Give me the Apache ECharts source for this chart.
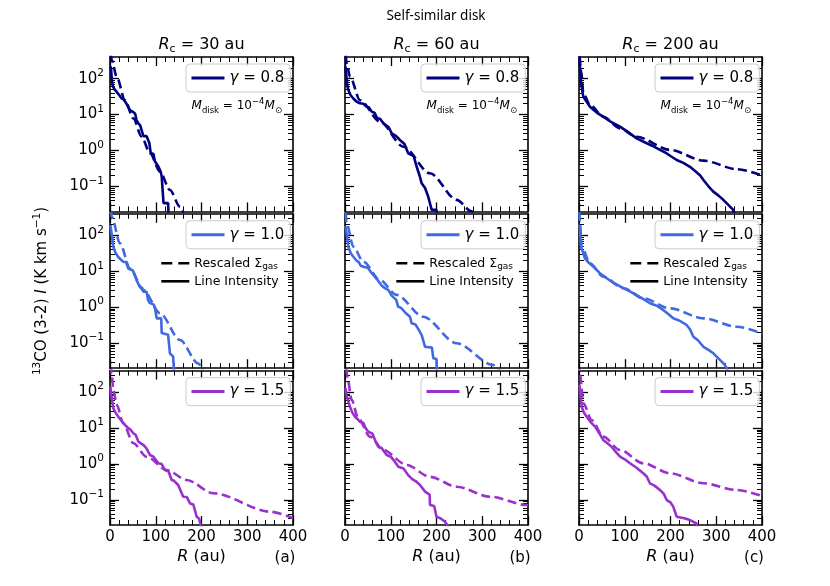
<!DOCTYPE html>
<html lang="en">
<head>
<meta charset="UTF-8">
<title>Self-similar disk</title>
<script src="https://cdn.jsdelivr.net/npm/echarts@6.0.0/dist/echarts.min.js"></script>
<style>
html, body { margin: 0; padding: 0; background: #fff; }
#chart { width: 830px; height: 586px; }
</style>
</head>
<body>
<div id="chart"></div>
<script>
// [R (au), 13CO(3-2) intensity (K km/s)]
// column a: Rc = 30 au, b: 60 au, c: 200 au ; rows 1..3: gamma 0.8, 1.0, 1.5
const a1Gas = [[2, 480], [3.6, 330], [14.6, 113], [32.8, 25], [51, 7.8], [69.2, 2.4], [87.4, 0.83], [109.3, 0.255], [131, 0.079], [153, 0.027], [165, 0.012]];
const a1Line = [[1, 220], [2.2, 190], [4, 95], [6, 62], [10, 50], [15, 42], [20, 35], [25.5, 28], [30, 26], [36, 20], [40, 16], [44, 13], [50, 12], [55, 10.5], [58, 7], [62, 5.7], [66, 5], [69, 3.7], [73, 2.5], [80, 2.5], [84, 2.4], [86, 1.6], [89, 0.85], [95, 0.8], [98, 0.5], [106, 0.35], [111, 0.25], [113, 0.19], [115, 0.08], [117, 0.034], [127, 0.034], [128, 0.015]];
const a2Gas = [[2, 500], [3.6, 330], [21.9, 60], [43.7, 12], [72.9, 3.0], [109.3, 0.68], [153, 0.122], [193, 0.027], [205, 0.015]];
const a2Line = [[1, 190], [3.6, 110], [7.3, 48], [12, 33], [18, 25], [24, 21], [29, 18.5], [35, 18], [40, 12], [44, 11], [50, 10.5], [54, 8], [58, 5.7], [65, 3.7], [70, 3.5], [73, 2.7], [80, 2.7], [83, 1.6], [87, 1.3], [95, 1.2], [98, 1.0], [102, 0.49], [112, 0.49], [113, 0.19], [127, 0.17], [131, 0.052], [138, 0.042], [140, 0.015]];
const a3Gas = [[2, 600], [3.6, 336], [7.3, 115], [14.6, 45], [29, 13.6], [51, 3.8], [80, 1.6], [124, 0.68], [167.6, 0.36], [225.9, 0.153], [350, 0.047], [400, 0.031]];
const a3Line = [[1, 140], [2.2, 93], [7.3, 35.6], [12, 27], [18.2, 20.8], [25, 16], [32.8, 12.2], [40, 10], [45, 9], [51, 7.2], [56, 6.5], [62, 4.2], [70, 3.6], [75, 3.2], [80, 2.7], [87.4, 1.78], [95, 1.6], [100, 1.3], [105.7, 1.05], [113, 1.0], [120, 0.68], [128, 0.62], [134.8, 0.36], [140, 0.34], [149, 0.26], [160, 0.123], [168, 0.12], [174.9, 0.08], [182, 0.075], [189.5, 0.034], [195, 0.03], [200, 0.015]];

const b1Gas = [[1.5, 450], [3.6, 267], [10.9, 113], [32.8, 25], [76.5, 6.3], [127.5, 1.27], [185.8, 0.23], [244, 0.042], [277, 0.02], [290, 0.012]];
const b1Line = [[1, 220], [2.2, 156], [4.5, 70], [7.3, 48], [12, 35], [18.2, 28], [25, 23], [32.8, 20.5], [40, 20], [47.4, 16.5], [52, 16], [58.3, 12], [65, 11], [70, 8], [77, 7.5], [83.8, 5.7], [95, 4.5], [102, 3.0], [112, 2.5], [120, 1.95], [130, 1.5], [138, 0.83], [150, 0.7], [156.7, 0.35], [163, 0.2], [167.6, 0.121], [175, 0.09], [182, 0.051], [189.5, 0.022], [200, 0.022], [201, 0.015]];
const b2Gas = [[1.5, 420], [3.6, 217], [18.2, 48.5], [40, 18.5], [76.5, 5.7], [113, 2.2], [171, 0.54], [244, 0.099], [324, 0.0245], [340, 0.016]];
const b2Line = [[1, 180], [3.6, 115], [7.3, 48.5], [12, 33], [18.2, 25.5], [25, 20], [30, 18], [35, 14], [40, 13.5], [50, 12.5], [58, 9], [62, 8.8], [70, 6], [80, 4], [87.4, 3.4], [95, 3], [102, 2.1], [106, 1.97], [112, 1.6], [116, 1.04], [123, 0.95], [132, 0.7], [142, 0.54], [145.7, 0.355], [154, 0.33], [160, 0.25], [167.6, 0.168], [175, 0.079], [190, 0.075], [193, 0.038], [200, 0.036], [201, 0.015]];
const b3Gas = [[3, 450], [5, 270], [14.6, 61], [29, 18.7], [54.6, 5.8], [83.8, 2.45], [134.8, 0.94], [185.8, 0.44], [244, 0.233], [317, 0.123], [397, 0.072], [400, 0.071]];
const b3Line = [[1, 130], [3.6, 84], [7, 55], [10.9, 39.5], [16, 27], [21.9, 20.8], [27, 18], [32.8, 15], [40, 14], [45, 10], [51, 7.9], [60, 7], [66, 4.5], [72.9, 3.0], [80, 2.8], [86, 2.2], [91, 1.78], [100, 1.6], [109, 1.16], [116.6, 0.84], [128, 0.75], [138, 0.49], [147, 0.38], [155, 0.33], [164, 0.26], [175, 0.17], [185, 0.14], [185.8, 0.072], [195, 0.068], [200, 0.034], [210, 0.03], [218.6, 0.0247], [230, 0.015]];

const c1Gas = [[1.5, 420], [4.4, 174], [9.5, 39], [24, 18.4], [53, 8.7], [89.6, 4.1], [126, 2.4], [199, 1.03], [272, 0.52], [345, 0.3], [400, 0.2]];
const c1Line = [[1, 300], [2.2, 215], [4.4, 74], [9.5, 31], [24, 16.5], [40, 11], [53, 8.7], [70, 6.2], [89.6, 4.6], [105, 3.4], [126, 2.17], [148, 1.58], [160, 1.35], [177, 1.03], [190, 0.85], [200, 0.7], [213.6, 0.54], [228, 0.45], [242.6, 0.35], [255, 0.26], [265, 0.2], [272, 0.15], [283, 0.1], [293.6, 0.071], [305, 0.055], [315.4, 0.042], [327, 0.03], [337, 0.022], [342, 0.015]];
const c2Gas = [[1, 450], [2.2, 217], [5.8, 48.5], [24, 16.7], [53, 7.1], [96.8, 3.4], [140.5, 1.77], [199, 0.93], [272, 0.49], [345, 0.286], [400, 0.187]];
const c2Line = [[1, 200], [2.2, 142], [4.4, 48.5], [13.1, 23], [20, 18], [31.3, 13.5], [45, 9], [60.5, 6.4], [75, 4.8], [96.8, 3.4], [110, 2.8], [126, 2.19], [140, 1.7], [155, 1.29], [170, 1.1], [184, 0.84], [195, 0.65], [206, 0.49], [220, 0.42], [235, 0.32], [242, 0.25], [250, 0.151], [260, 0.12], [272, 0.079], [283, 0.065], [293.6, 0.052], [308, 0.034], [319, 0.0245], [328, 0.015]];
const c3Gas = [[1, 700], [2.2, 302], [9.5, 49], [27.7, 16.8], [53, 5.8], [89.6, 2.45], [140.5, 1.05], [199, 0.55], [272, 0.29], [345, 0.189], [400, 0.128]];
const c3Line = [[1, 160], [2.2, 115], [5.8, 39.5], [10, 28], [16.8, 20.8], [25, 15], [35, 11], [45, 7], [53, 4.66], [62, 3.8], [71.5, 3.0], [80, 2.2], [89.6, 1.6], [100, 1.35], [111.5, 1.05], [125, 0.8], [140.5, 0.55], [148, 0.45], [155, 0.29], [165, 0.25], [177, 0.189], [185, 0.15], [191.7, 0.099], [200, 0.085], [206, 0.065], [210, 0.06], [213.6, 0.034], [230, 0.031], [242.6, 0.0275], [257, 0.022], [262, 0.015]];

const rcLabels = ['30', '60', '200'];
const gammaLabels = ['0.8', '1.0', '1.5'];
const panelTags = ['(a)', '(b)', '(c)'];
const yMin = 0.02, yMax = 400;
const yMajor = [0.1, 1, 10, 100];
const yMinor = [0.03, 0.04, 0.05, 0.06, 0.07, 0.08, 0.09, 0.2, 0.3, 0.4, 0.5, 0.6, 0.7, 0.8, 0.9,
  2, 3, 4, 5, 6, 7, 8, 9, 20, 30, 40, 50, 60, 70, 80, 90, 200, 300];

const gasData = [[a1Gas, a2Gas, a3Gas], [b1Gas, b2Gas, b3Gas], [c1Gas, c2Gas, c3Gas]];
const lineData = [[a1Line, a2Line, a3Line], [b1Line, b2Line, b3Line], [c1Line, c2Line, c3Line]];
const rowColors = ['#000080', '#4169e1', '#9932cc'];

// layout
const colLeft = [110, 345, 579];
const rowTop = [57, 213.8, 370.6];
const W = 183, H = 154.4;
const FONT = 'DejaVu Sans';

const spine = { show: true, onZero: false, lineStyle: { color: '#000', width: 1.6 } };
const noLine = { show: false, onZero: false };
const tickLine = { color: '#000', width: 1.3 };

function supFmt(v) {
  const e = Math.round(Math.log10(v));
  return '{b|10}{s|' + (e < 0 ? '\u2212' + (-e) : e) + '}';
}

function xAx(k, pos, labels) {
  return {
    gridIndex: k, type: 'value', min: 0, max: 400, interval: 100, position: pos,
    axisLine: spine,
    axisTick: { show: true, inside: true, length: 9, lineStyle: tickLine },
    minorTick: { show: true, splitNumber: 5, length: 5, lineStyle: { color: '#000', width: 1 } },
    splitLine: { show: false }, minorSplitLine: { show: false },
    axisLabel: labels ? { show: true, color: '#000', fontSize: 15, fontFamily: FONT, margin: 5 } : { show: false },
    name: labels ? '{i|R} (au)' : '',
    nameLocation: 'middle', nameGap: 24,
    nameTextStyle: { color: '#000', fontSize: 16, fontFamily: FONT,
      rich: { i: { fontStyle: 'italic', fontSize: 16, fontFamily: FONT, color: '#000' } } }
  };
}

// data axis (log) carrying the decade labels
function yData(k, labels) {
  return {
    gridIndex: k, type: 'log', logBase: 10, min: yMin, max: yMax, position: 'left',
    axisLine: spine, axisTick: { show: false }, splitLine: { show: false },
    axisLabel: labels ? {
      show: true, customValues: yMajor, margin: 6, formatter: supFmt, color: '#000',
      rich: {
        b: { fontSize: 15, fontFamily: FONT, color: '#000', lineHeight: 22, verticalAlign: 'middle' },
        s: { fontSize: 10.5, fontFamily: FONT, color: '#000', lineHeight: 10, verticalAlign: 'top' }
      }
    } : { show: false }
  };
}

// tick-only axes laid out in decades (log10 of the value)
function yTicks(k, pos, vals, len, showLine) {
  return {
    gridIndex: k, type: 'value', min: Math.log10(yMin), max: Math.log10(yMax), position: pos,
    axisLine: showLine ? spine : noLine,
    axisTick: { show: true, inside: true, length: len, customValues: vals.map(v => Math.log10(v)),
      lineStyle: len > 6 ? tickLine : { color: '#000', width: 1 } },
    axisLabel: { show: false }, splitLine: { show: false }
  };
}

const grid = [], xAxis = [], yAxis = [], series = [], legend = [], graphic = [], title = [];

title.push({
  text: 'Self-similar disk', left: 436, top: 8, textAlign: 'center', padding: 0,
  textStyle: { fontSize: 13.5, fontFamily: 'Noto Sans', fontWeight: 'normal', color: '#000', lineHeight: 16 }
});

for (let r = 0; r < 3; r++) {
  for (let c = 0; c < 3; c++) {
    const k = r * 3 + c;
    const color = rowColors[r];
    grid.push({ left: colLeft[c], top: rowTop[r], width: W, height: H, outerBoundsMode: 'none', containLabel: false });
    xAxis.push(xAx(k, 'bottom', r === 2));
    xAxis.push(xAx(k, 'top', false));
    const yl = yData(k, c === 0);
    if (k === 3) {
      yl.name = '{s|13}CO (3-2) {i|I} (K km s{s|\u22121})';
      yl.nameLocation = 'middle';
      yl.nameRotate = 90;
      yl.nameGap = 58;
      yl.nameTextStyle = {
        color: '#000', fontSize: 15, fontFamily: FONT, lineHeight: 20,
        rich: {
          i: { fontStyle: 'italic', fontSize: 15, fontFamily: FONT, color: '#000', lineHeight: 20 },
          s: { fontSize: 10.5, fontFamily: FONT, color: '#000', lineHeight: 10, verticalAlign: 'top' }
        }
      };
    }
    yAxis.push(yl);
    yAxis.push(yTicks(k, 'left', yMajor, 9, false));
    yAxis.push(yTicks(k, 'left', yMinor, 5, false));
    yAxis.push(yTicks(k, 'right', yMajor, 9, true));
    yAxis.push(yTicks(k, 'right', yMinor, 5, false));

    series.push({
      type: 'line', name: 'G' + k, xAxisIndex: 2 * k, yAxisIndex: 5 * k,
      data: gasData[c][r], symbol: 'none', smooth: 0.3, smoothMonotone: 'x',
      lineStyle: { color: color, width: 2.6, type: [9, 4.5] }, itemStyle: { color: color },
      clip: true, silent: true, z: 2
    });
    series.push({
      type: 'line', name: 'L' + k, xAxisIndex: 2 * k, yAxisIndex: 5 * k,
      data: lineData[c][r], symbol: 'none',
      lineStyle: { color: color, width: 2.6 }, itemStyle: { color: color },
      clip: true, silent: true, z: 3
    });

    legend.push({
      data: ['L' + k], left: colLeft[c] + 76, top: rowTop[r] + 7, orient: 'horizontal',
      padding: [5, 6, 5, 4], itemWidth: 33, itemHeight: 14, itemGap: 0,
      backgroundColor: 'rgba(255,255,255,0.8)', borderColor: '#cccccc', borderWidth: 1, borderRadius: 4,
      itemStyle: { opacity: 0 }, lineStyle: { width: 3 }, selectedMode: false,
      formatter: () => '{i|\u03b3} = ' + gammaLabels[r],
      textStyle: { fontSize: 15, fontFamily: FONT, color: '#000', lineHeight: 18,
        rich: { i: { fontStyle: 'italic', fontSize: 15, fontFamily: FONT, color: '#000', lineHeight: 18 } } }
    });

    if (r === 0) {
      graphic.push({
        type: 'text', x: colLeft[c] + 172, y: rowTop[r] + 49, silent: true,
        style: {
          text: '{i|M}{d|disk} = 10{u|\u22124}{i|M}{d|\u2299}',
          fontSize: 12, fontFamily: FONT, fill: '#000', lineHeight: 18,
          align: 'right', verticalAlign: 'middle', textAlign: 'right', textVerticalAlign: 'middle',
          rich: {
            i: { fontStyle: 'italic', fontSize: 12, fontFamily: FONT, fill: '#000', lineHeight: 18 },
            d: { fontSize: 8.5, fontFamily: FONT, fill: '#000', lineHeight: 13, verticalAlign: 'bottom' },
            u: { fontSize: 8.5, fontFamily: FONT, fill: '#000', lineHeight: 9, verticalAlign: 'top' }
          }
        }
      });
      title.push({
        text: '{i|R}{d|c} = ' + rcLabels[c] + ' au', left: colLeft[c] + W / 2, top: 35,
        textAlign: 'center', padding: 0,
        textStyle: {
          fontSize: 16, fontFamily: FONT, fontWeight: 'normal', color: '#000', lineHeight: 20,
          rich: {
            i: { fontStyle: 'italic', fontSize: 16, fontFamily: FONT, color: '#000', lineHeight: 20 },
            d: { fontSize: 11, fontFamily: FONT, color: '#000', lineHeight: 15, verticalAlign: 'bottom' }
          }
        }
      });
    }
    if (r === 1) {
      legend.push({
        data: ['Rescaled', 'LineInt'], left: colLeft[c] + 50, top: rowTop[r] + 42, orient: 'vertical',
        padding: 0, itemWidth: 28, itemHeight: 14, itemGap: 3, borderWidth: 0,
        itemStyle: { opacity: 0 }, lineStyle: { width: 2.6 }, selectedMode: false,
        formatter: n => n === 'Rescaled' ? 'Rescaled \u03a3{d|gas}' : 'Line Intensity',
        textStyle: { fontSize: 12.5, fontFamily: FONT, color: '#000', lineHeight: 15,
          rich: { d: { fontSize: 9, fontFamily: FONT, color: '#000', lineHeight: 11, verticalAlign: 'bottom' } } }
      });
    }
    if (r === 2) {
      title.push({
        text: panelTags[c], left: colLeft[c] + 175, top: 549, textAlign: 'center', padding: 0,
        textStyle: { fontSize: 15, fontFamily: FONT, fontWeight: 'normal', color: '#000', lineHeight: 18 }
      });
    }
  }
}

// handles for the black line-style key
series.push({ type: 'line', name: 'Rescaled', xAxisIndex: 0, yAxisIndex: 0, data: [], symbol: 'none',
  lineStyle: { color: '#000', width: 2.6, type: [11, 6] }, itemStyle: { color: '#000' } });
series.push({ type: 'line', name: 'LineInt', xAxisIndex: 0, yAxisIndex: 0, data: [], symbol: 'none',
  lineStyle: { color: '#000', width: 2.6 }, itemStyle: { color: '#000' } });

const chart = echarts.init(document.getElementById('chart'));
const option = {
  animation: false,
  backgroundColor: '#ffffff',
  tooltip: { show: false },
  grid: grid,
  xAxis: xAxis,
  yAxis: yAxis,
  series: series,
  legend: legend,
  graphic: graphic,
  title: title
};
chart.setOption(option);
chart.getZr().flush();
</script>
</body>
</html>
